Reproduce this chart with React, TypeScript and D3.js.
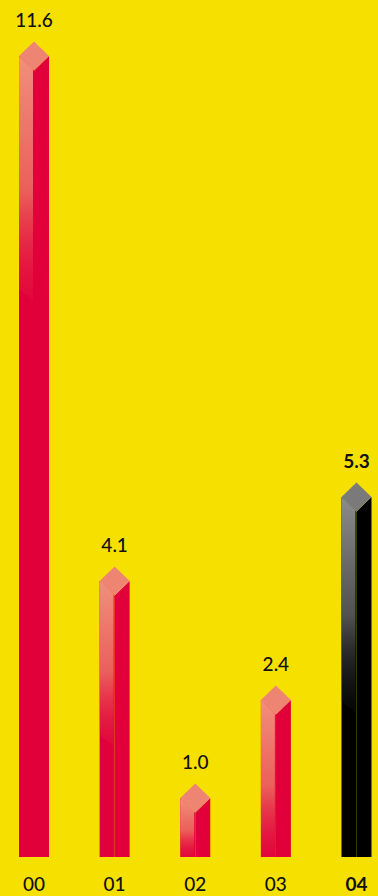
import React from "react";
import * as d3 from "d3";

const categories = ["00", "01", "02", "03", "04"];
const values = [11.6, 4.1, 1.0, 2.4, 5.3];
const valueLabels = ["11.6", "4.1", "1.0", "2.4", "5.3"];
const highlighted = [false, false, false, false, true];

const W = 378;
const H = 896;
const BG = "#F6E000";
const BASE = 857;

export default function App() {
  const x = d3.scalePoint<string>().domain(categories).range([34, 356.5]);
  const y = d3.scaleLinear().domain([0, 12]).range([868, 28]);
  const half = 15;
  const dy = 14.5;

  return (
    <svg
      width={W}
      height={H}
      style={{ position: "absolute", left: 0, top: 0, display: "block" }}
    >
      <defs>
        <linearGradient id="gRed" x1="0" y1="0" x2="0" y2="1">
          <stop offset="0" stopColor="#F1907C" stopOpacity={1} />
          <stop offset="0.55" stopColor="#EC6A5E" stopOpacity={0.9} />
          <stop offset="1" stopColor="#E4203F" stopOpacity={0.2} />
        </linearGradient>
        <linearGradient id="gBlack" x1="0" y1="0" x2="0" y2="1">
          <stop offset="0" stopColor="#8C8C8C" stopOpacity={1} />
          <stop offset="0.55" stopColor="#5A5A5A" stopOpacity={0.9} />
          <stop offset="1" stopColor="#1A1A1A" stopOpacity={0.2} />
        </linearGradient>
      </defs>
      <rect x={0} y={0} width={W} height={H} fill={BG} />
      {categories.map((c, i) => {
        const cx = x(c) as number;
        const yc = y(values[i]);
        const dark = highlighted[i];
        const base = dark ? "#000000" : "#E2003A";
        const topCol = dark ? "#7A7A7A" : "#EE8573";
        const h = BASE - yc;
        const hl = Math.min(h, Math.max(160, Math.min(245, 0.6 * h)));
        const front = `M${cx - half},${yc} L${cx},${yc + dy} L${cx},${BASE} L${cx - half},${BASE} Z`;
        const right = `M${cx},${yc + dy} L${cx + half},${yc} L${cx + half},${BASE} L${cx},${BASE} Z`;
        const top = `M${cx},${yc - dy} L${cx + half},${yc} L${cx},${yc + dy} L${cx - half},${yc} Z`;
        const hEnd = yc + hl;
        const full = hl >= h;
        const hlPath = full
          ? `M${cx - half},${yc} L${cx - 1},${yc + dy - 1} L${cx - 1},${BASE} L${cx - half},${BASE} Z`
          : `M${cx - half},${yc} L${cx - 1},${yc + dy - 1} L${cx - 1},${hEnd} L${cx - half + 2},${hEnd - 10} L${cx - half},${hEnd - 12} Z`;
        return (
          <g key={c}>
            <path d={front} fill={base} />
            <path d={right} fill={base} />
            <path d={hlPath} fill={`url(#${dark ? "gBlack" : "gRed"})`} />
            <path d={top} fill={topCol} />
            <text
              x={cx}
              y={yc - dy - 15}
              textAnchor="middle"
              fontFamily="Lato, 'Open Sans', sans-serif"
              fontSize={19}
              fontWeight={dark ? 700 : 500}
              fill="#111"
            >
              {valueLabels[i]}
            </text>
            <text
              x={cx}
              y={891}
              textAnchor="middle"
              fontFamily="Lato, 'Open Sans', sans-serif"
              fontSize={19}
              fontWeight={dark ? 700 : 500}
              fill="#111"
            >
              {c}
            </text>
          </g>
        );
      })}
    </svg>
  );
}
